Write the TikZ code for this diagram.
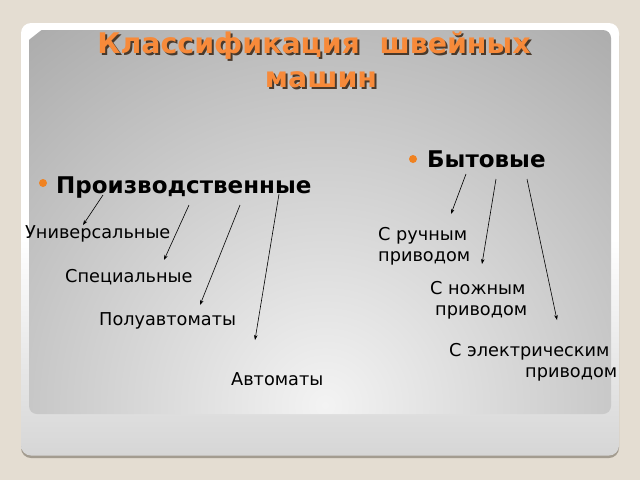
\documentclass[tikz,border=0pt]{standalone}
\usepackage{fontspec}
\setmainfont{DejaVu Sans}
\usetikzlibrary{arrows.meta}
\definecolor{bgc}{HTML}{E4DDD2}
\definecolor{shadowc}{HTML}{A39C90}
\definecolor{cardbot}{HTML}{D6D6D6}
\definecolor{grayin}{HTML}{F3F3F3}
\definecolor{grayout}{HTML}{ADADAD}
\definecolor{titlec}{HTML}{F78A3A}
\definecolor{titlesh}{HTML}{4A3A2C}
\definecolor{bulletc}{HTML}{F08221}
\newcommand{\shtext}[1]{\rlap{\hspace{2pt}\raisebox{-2pt}{\textcolor{titlesh}{#1}}}\textcolor{titlec}{#1}}
\tikzset{
  lbl/.style={anchor=base west, inner sep=0pt, font=\fontsize{17.7}{21}\selectfont, text=black},
  head/.style={anchor=base west, inner sep=0pt, font=\fontsize{23}{27}\selectfont\bfseries, text=black},
  ttl/.style={anchor=base, inner sep=0pt, font=\fontsize{28.4}{33}\selectfont\bfseries},
  arr/.style={-{Stealth[length=5pt,width=3.6pt]}, line width=0.6pt, black},
  bullet/.style={circle, fill=bulletc, inner sep=0pt, minimum size=8pt}
}
\begin{document}
\begin{tikzpicture}[x=1pt,y=-1pt]
\useasboundingbox (0,0) rectangle (640,480);
\fill[bgc] (0,0) rectangle (640,480);
% card shadow and card
\fill[shadowc, rounded corners=10pt] (21,26) rectangle (619,458);
\shade[top color=white, bottom color=cardbot, middle color=white, rounded corners=10pt] (21,23) rectangle (619,455.5);
% inner gray panel
\begin{scope}
  \clip[rounded corners=8pt] (29,30) rectangle (611,414);
  \shade[inner color=grayin, outer color=grayout] (325,405) circle (470);
\end{scope}
% title
\node[ttl] (t1) at (314,53) {\shtext{Классификация\ \ швейных}};
\node[ttl] (t2) at (321,87) {\shtext{машин}};
% headings
\node[bullet] (bl) at (43,183) {};
\node[head] (prod) at (56,193) {Производственные};
\node[bullet] (br) at (413,159) {};
\node[head] (byt) at (427,167) {Бытовые};
% left labels
\node[lbl] (univ) at (25,238) {Универсальные};
\node[lbl] (spec) at (65,282) {Специальные};
\node[lbl] (polu) at (99,325) {Полуавтоматы};
\node[lbl] (avto) at (231,385) {Автоматы};
% right labels
\node[lbl] (ruch1) at (378,240) {С ручным};
\node[lbl] (ruch2) at (378,261) {приводом};
\node[lbl] (nozh1) at (430,294) {С ножным};
\node[lbl] (nozh2) at (435,315) {приводом};
\node[lbl] (el1) at (449,356) {С электрическим};
\node[lbl] (el2) at (525,377) {приводом};
% connector ends
\coordinate (a1s) at (103,195); \coordinate (a1e) at (83,225);
\coordinate (a2s) at (189,205); \coordinate (a2e) at (164,260);
\coordinate (a3s) at (240,205); \coordinate (a3e) at (200,305);
\coordinate (a4s) at (279,194); \coordinate (a4e) at (255,340);
\coordinate (b1s) at (466,174); \coordinate (b1e) at (451,214);
\coordinate (b2s) at (496,179); \coordinate (b2e) at (482,264);
\coordinate (b3s) at (527,179); \coordinate (b3e) at (557,320);
\draw[arr] (a1s) -- (a1e);
\draw[arr] (a2s) -- (a2e);
\draw[arr] (a3s) -- (a3e);
\draw[arr] (a4s) -- (a4e);
\draw[arr] (b1s) -- (b1e);
\draw[arr] (b2s) -- (b2e);
\draw[arr] (b3s) -- (b3e);
\end{tikzpicture}
\end{document}
